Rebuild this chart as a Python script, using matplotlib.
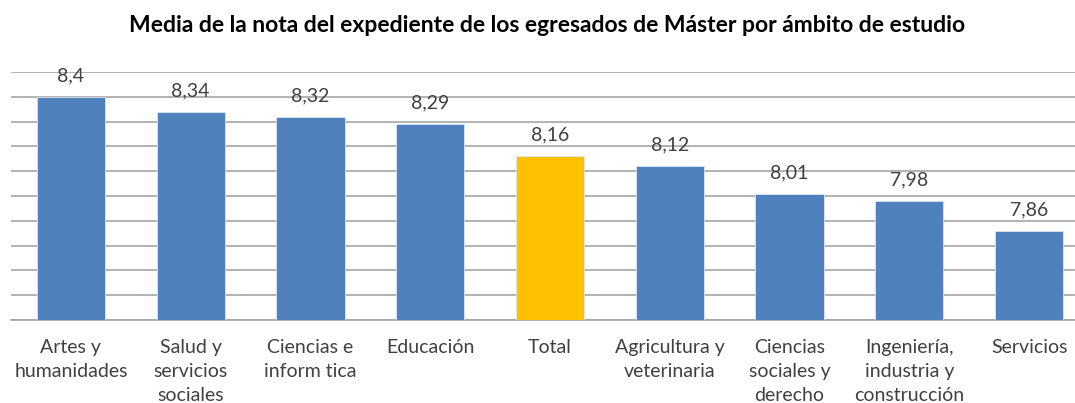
import matplotlib.pyplot as plt

categorias = ['Artes y\nhumanidades', 'Salud y\nservicios\nsociales', 'Ciencias e\ninform tica',
              'Educación', 'Total', 'Agricultura y\nveterinaria', 'Ciencias\nsociales y\nderecho',
              'Ingeniería,\nindustria y\nconstrucción', 'Servicios']
notas = [8.4, 8.34, 8.32, 8.29, 8.16, 8.12, 8.01, 7.98, 7.86]
etiquetas = ['8,4', '8,34', '8,32', '8,29', '8,16', '8,12', '8,01', '7,98', '7,86']

plt.rcParams['font.family'] = ['Lato', 'DejaVu Sans']

fig = plt.figure(figsize=(10.75, 4.03), dpi=100)
ax = fig.add_axes([11 / 1075, 83 / 403, 1078 / 1075, 248 / 403])

colores = ['#4F81BD' if c != 'Total' else '#FFC000' for c in categorias]
x = range(len(categorias))
ax.bar(x, [n - 7.5 for n in notas], bottom=7.5, width=0.57, color=colores,
       edgecolor='#DCE6F2', linewidth=0.6, zorder=3)

for i, (n, t) in enumerate(zip(notas, etiquetas)):
    ax.text(i, n + 0.085, t, ha='center', va='center', fontsize=14, color='#404040', zorder=4)

ax.set_xlim(-0.5, len(categorias) - 0.5)
ax.set_ylim(7.5, 8.5)
ax.set_yticks([7.5 + 0.1 * k for k in range(11)])
ax.yaxis.grid(True, color='#A6A6A6', linewidth=1.2, zorder=0)
ax.tick_params(axis='y', left=False, labelleft=False)
ax.tick_params(axis='x', bottom=False, pad=10)
ax.set_xticks(list(x))
ax.set_xticklabels(categorias, fontsize=14, color='#404040', linespacing=1.5)
for s in ['top', 'right', 'left']:
    ax.spines[s].set_visible(False)
ax.spines['bottom'].set_color('#A6A6A6')
ax.spines['bottom'].set_linewidth(1.2)

fig.text(547 / 1075, 1 - 25 / 403, 'Media de la nota del expediente de los egresados de Máster por ámbito de estudio',
         ha='center', va='center', fontsize=16.5, fontweight='bold', color='black')

fig.savefig('out.png', dpi=100)
